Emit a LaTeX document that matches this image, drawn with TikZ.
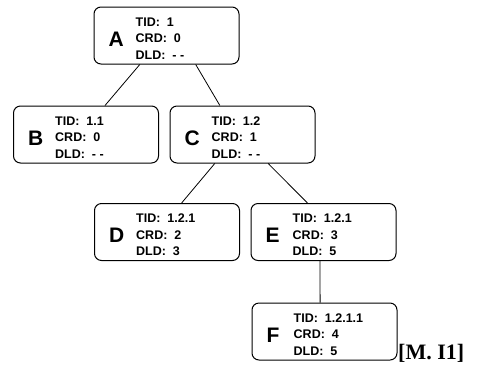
\documentclass[tikz,border=0pt]{standalone}
\usepackage{fontspec}
\setmainfont{Liberation Sans}
\newfontfamily\serifm{Liberation Serif}
\usetikzlibrary{calc}
\begin{document}
\begin{tikzpicture}[x=1pt,y=-1pt,
  tbox/.style={draw, line width=1pt, rounded corners=7pt, minimum width=145pt, minimum height=57pt, inner sep=0pt},
  bigl/.style={anchor=base west, inner sep=0pt, font=\bfseries\fontsize{21}{21}\selectfont},
  info/.style={anchor=base west, inner sep=0pt, font=\bfseries\fontsize{12.5}{12.5}\selectfont},
  edge/.style={line width=0.8pt}]
\useasboundingbox (0,0) rectangle (479,365);
\newcommand{\tbox}[7]{%
  \node[tbox] (#1) at (#2,#3) {};
  \node[bigl] (#1l) at ([xshift=15pt,yshift=-39.5pt]#1.north west) {#4};
  \node[info] (#1t) at ([xshift=42pt,yshift=-19.5pt]#1.north west) {TID:\ \ #5};
  \node[info] (#1c) at ([xshift=42pt,yshift=-36pt]#1.north west) {CRD:\ \ #6};
  \node[info] (#1d) at ([xshift=42pt,yshift=-52.5pt]#1.north west) {DLD:\ \ #7};
}
\tbox{A}{166.5}{35.5}{A}{1}{0}{- -}
\tbox{B}{86}{134.5}{B}{1.1}{0}{- -}
\tbox{C}{242.5}{134.5}{C}{1.2}{1}{- -}
\tbox{D}{167}{232}{D}{1.2.1}{2}{3}
\tbox{E}{323.5}{232}{E}{1.2.1}{3}{5}
\tbox{F}{324.5}{331.5}{F}{1.2.1.1}{4}{5}
\draw[edge] ($(A.south west)!0.317!(A.south east)$) -- ($(B.north west)!0.63!(B.north east)$);
\draw[edge] ($(A.south west)!0.70!(A.south east)$) -- ($(C.north west)!0.345!(C.north east)$);
\draw[edge] ($(C.south west)!0.31!(C.south east)$) -- ($(D.north west)!0.60!(D.north east)$);
\draw[edge] ($(C.south west)!0.676!(C.south east)$) -- ($(E.north west)!0.39!(E.north east)$);
\draw[edge] ($(E.south west)!0.476!(E.south east)$) -- ($(F.north west)!0.47!(F.north east)$);
\node[anchor=base west, inner sep=0pt, font=\serifm\bfseries\fontsize{22}{22}\selectfont] (ref) at (398,359) {[M. I1]};
\end{tikzpicture}
\end{document}
